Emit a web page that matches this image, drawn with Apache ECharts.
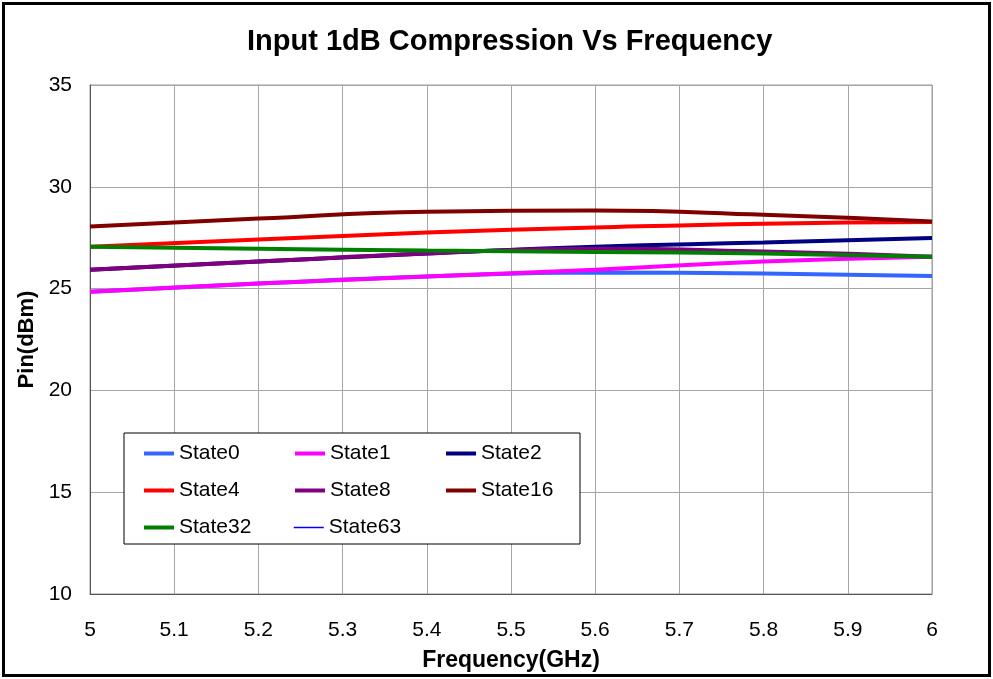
<!DOCTYPE html>
<html>
<head>
<meta charset="utf-8">
<script src="https://cdn.jsdelivr.net/npm/echarts@6/dist/echarts.min.js"></script>
<style>
html,body{margin:0;padding:0;background:#fff;}
#chart{width:993px;height:679px;}
</style>
</head>
<body>
<div id="chart"></div>
<script>
// ---- data ----
const freqs = [5.0, 5.2, 5.4, 5.6, 5.8, 6.0];
const state0  = [24.85, 25.25, 25.59, 25.79, 25.74, 25.62];
const state1  = [24.85, 25.25, 25.59, 25.93, 26.33, 26.57];
const state2  = [25.93, 26.33, 26.72, 27.06, 27.26, 27.49];
const state4  = [27.06, 27.41, 27.75, 28.00, 28.19, 28.27];
const state8  = [25.93, 26.33, 26.72, 26.96, 26.82, 26.57];
const state16 = [28.05, 28.44, 28.78, 28.83, 28.63, 28.30];
const state32 = [27.06, 26.96, 26.87, 26.80, 26.72, 26.57];
const state63 = [];
const seriesNames = ['State0','State1','State2','State4','State8','State16','State32','State63'];
const seriesValues = [state0, state1, state2, state4, state8, state16, state32, state63];
const yTicks = [10, 15, 20, 25, 30, 35];

// ---- styles ----
const colors = ['#3366FF','#FF00FF','#000080','#FF0000','#800080','#800000','#008000','#0000FF'];
const widths = [4,4,4,4,4,4,4,1.5];
const FONT = 'Liberation Sans, Arial, sans-serif';

const chart = echarts.init(document.getElementById('chart'));
const series = seriesNames.map((name, i) => ({
  name: name,
  type: 'line',
  smooth: true,
  symbol: 'none',
  showSymbol: false,
  color: colors[i],
  lineStyle: { color: colors[i], width: widths[i] },
  data: seriesValues[i].map((v, j) => [freqs[j], v]),
  animation: false
}));

chart.setOption({
  animation: false,
  backgroundColor: '#fff',
  title: {
    text: 'Input 1dB Compression Vs Frequency',
    left: 242,
    top: 22,
    textStyle: { fontFamily: FONT, fontSize: 29, fontWeight: 'bold', color: '#000' }
  },
  graphic: [{
    type: 'rect',
    shape: { x: 3.5, y: 3.5, width: 986, height: 672 },
    style: { fill: 'none', stroke: '#000', lineWidth: 3 },
    silent: true
  }],
  grid: { left: 90, right: 61, top: 85, bottom: 85, show: true, borderColor: '#999', borderWidth: 1, outerBoundsMode: 'none', containLabel: false },
  legend: {
    left: 124,
    top: 433,
    width: 446,
    orient: 'horizontal',
    padding: [10, 1, 6, 18],
    itemGap: 16,
    itemWidth: 30,
    itemHeight: 1,
    backgroundColor: '#fff',
    borderColor: '#000',
    borderWidth: 1,
    lineStyle: { width: 'inherit' },
    data: seriesNames,
    textStyle: { fontFamily: FONT, fontSize: 21, color: '#000', width: 98, lineHeight: 21, padding: [0,0,0,0] }
  },
  xAxis: {
    type: 'value',
    min: 5, max: 6, interval: 0.1,
    name: 'Frequency(GHz)',
    nameLocation: 'middle',
    nameGap: 55,
    nameTextStyle: { fontFamily: FONT, fontSize: 23, fontWeight: 'bold', color: '#000' },
    axisLine: { show: true, onZero: false, lineStyle: { color: '#555', width: 1 } },
    axisTick: { show: false },
    axisLabel: {
      fontFamily: FONT, fontSize: 21, color: '#000', margin: 26,
      formatter: v => (Math.abs(v - Math.round(v)) < 1e-9 ? String(Math.round(v)) : v.toFixed(1))
    },
    splitLine: { show: true, lineStyle: { color: '#a6a6a6', width: 1 } }
  },
  yAxis: {
    type: 'value',
    min: yTicks[0], max: yTicks[yTicks.length - 1], interval: 5,
    name: 'Pin(dBm)',
    nameLocation: 'middle',
    nameGap: 49,
    nameRotate: 90,
    nameTextStyle: { fontFamily: FONT, fontSize: 22, fontWeight: 'bold', color: '#000' },
    axisLine: { show: true, lineStyle: { color: '#555', width: 1 } },
    axisTick: { show: false },
    axisLabel: { fontFamily: FONT, fontSize: 21, color: '#000', margin: 18 },
    splitLine: { show: true, lineStyle: { color: '#a6a6a6', width: 1 } }
  },
  series: series
});
</script>
</body>
</html>
